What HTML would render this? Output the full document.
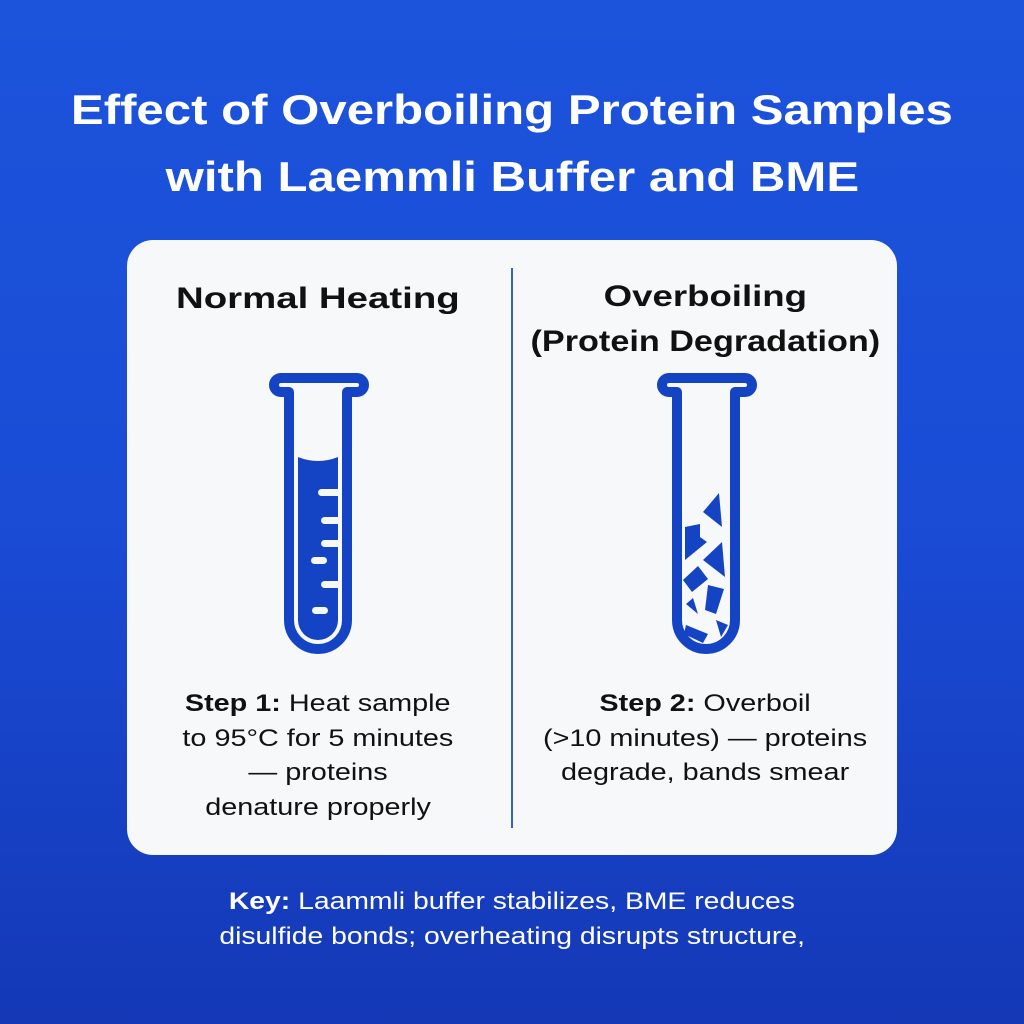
<!DOCTYPE html>
<html><head><style>
body{margin:0;width:1024px;height:1024px;overflow:hidden;background:linear-gradient(180deg,#1c54dc 0%,#1a4cd6 50%,#1438b6 100%);font-family:"Liberation Sans",sans-serif;position:relative}
.t{position:absolute;left:0;width:1024px;text-align:center;color:#fff;font-weight:bold;font-size:42px}
.t span,.h span,.s span,.k span{display:inline-block}
.t span{transform:scaleX(1.17)}
.card{position:absolute;left:127px;top:240px;width:770px;height:615px;background:#f7f8fa;border-radius:26px}
.h{position:absolute;text-align:center;font-weight:bold;font-size:30px;color:#111}
.h span{transform:scaleX(1.28)}
.s{position:absolute;text-align:center;font-size:24px;color:#111;line-height:34.5px}
.s span{transform:scaleX(1.2)}
.k{position:absolute;left:0;width:1024px;text-align:center;color:#fff;font-size:24px;line-height:35px;top:884px}
.k span{transform:scaleX(1.18)}
</style></head><body>
<div class="t" style="top:86px"><span>Effect of Overboiling Protein Samples</span></div>
<div class="t" style="top:153px"><span>with Laemmli Buffer and BME</span></div>
<div class="card"></div>
<div style="position:absolute;left:511px;top:268px;width:2px;height:560px;background:#3a5fc8"></div>
<div class="h" style="left:128px;width:380px;top:282px"><span>Normal Heating</span></div>
<div class="h" style="left:515px;width:380px;top:280px"><span style="transform:scaleX(1.22)">Overboiling</span></div>
<div class="h" style="left:515px;width:380px;top:325px"><span style="transform:scaleX(1.14)">(Protein Degradation)</span></div>
<svg width="1024" height="1024" style="position:absolute;left:0;top:0">
<g fill="none" stroke="#1444c4" stroke-width="10" stroke-linejoin="round">
<path d="M289 392 H281 a7 7 0 0 1 0 -14 H357 a7 7 0 0 1 0 14 H347 V620 a29 29 0 0 1 -58 0 Z"/>
<path d="M677 392 H669 a7 7 0 0 1 0 -14 H745 a7 7 0 0 1 0 14 H735 V620 a29 29 0 0 1 -58 0 Z"/>
</g>
<g fill="#1444c4">
<path d="M298 457 Q318 465 338 457 V620 a20 20 0 0 1 -40 0 Z"/>
<polygon points="719,493 722,527 703,512"/>
<polygon points="685,527 700,524 700,537 707,542 685,560"/>
<polygon points="722,542 725,577 703,560"/>
<polygon points="683,580 698,566 708,579 692,592"/>
<polygon points="708,585 724,589 716,614 705,610"/>
<polygon points="686,604 693,598 698,614"/>
<polygon points="686,625 708,634 703,643 684,634"/>
<polygon points="716,620 728,625 721,637"/>
</g>
<g fill="#f7f8fa">
<rect x="318" y="489" width="24" height="7" rx="3.5"/>
<rect x="321" y="517" width="21" height="7" rx="3.5"/>
<rect x="321" y="540" width="21" height="7" rx="3.5"/>
<rect x="311" y="557" width="16" height="7" rx="3.5"/>
<rect x="321" y="581" width="21" height="7" rx="3.5"/>
<rect x="312" y="607" width="16" height="7" rx="3.5"/>
</g>
</svg>
<div class="s" style="left:128px;width:380px;top:687px"><span><b>Step 1:</b> Heat sample</span><br><span>to 95°C for 5 minutes</span><br><span>— proteins</span><br><span>denature properly</span></div>
<div class="s" style="left:515px;width:380px;top:687px"><span><b>Step 2:</b> Overboil</span><br><span>(&gt;10 minutes) — proteins</span><br><span>degrade, bands smear</span></div>
<div class="k"><span><b>Key:</b> Laammli buffer stabilizes, BME reduces</span><br><span>disulfide bonds; overheating disrupts structure,</span></div>
</body></html>
